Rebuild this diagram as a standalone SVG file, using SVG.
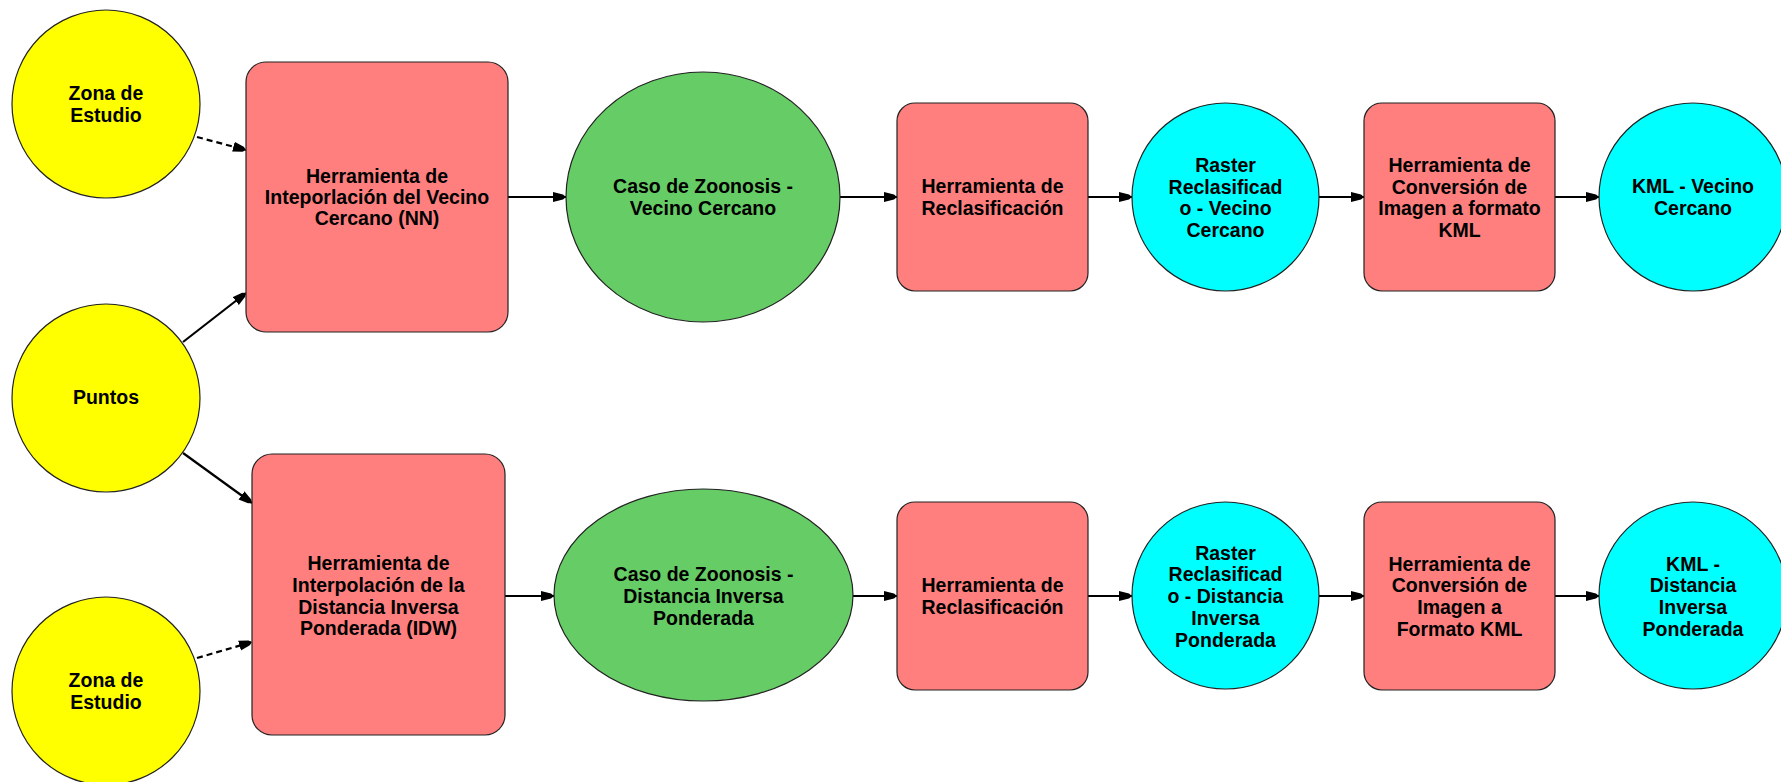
<svg xmlns="http://www.w3.org/2000/svg" width="1781" height="782" viewBox="0 0 1781 782">
<style>
  .lbl { font-family: "Liberation Sans", Arial, sans-serif; font-weight: bold; font-size: 19.5px; fill: #000; text-anchor: middle; }
  .in { fill: #FFFF00; stroke: #222; stroke-width: 1.2; }
  .tool { fill: #FF7F7F; stroke: #222; stroke-width: 1.2; }
  .mid { fill: #66CC66; stroke: #222; stroke-width: 1.2; }
  .out { fill: #00FFFF; stroke: #222; stroke-width: 1.2; }
  .edge { stroke: #000; stroke-width: 2.2; fill: none; marker-end: url(#ah); }
  .dash { stroke-dasharray: 6 4; }
</style>
<defs>
  <marker id="ah" viewBox="0 0 13 11" refX="13" refY="5.5" markerWidth="13" markerHeight="11" markerUnits="userSpaceOnUse" orient="auto">
    <path d="M0,0.5 L10,3 L13,5.5 L10,8 L0,10.5 Z" fill="#000"/>
  </marker>
</defs>
<rect width="1781" height="782" fill="#fff"/>
<g id="connectors">
  <line class="edge dash" x1="197" y1="137" x2="246" y2="150"/>
  <line class="edge" x1="183" y1="342" x2="246" y2="293"/>
  <line class="edge" x1="183" y1="453" x2="252" y2="503"/>
  <line class="edge dash" x1="197" y1="658" x2="252" y2="642"/>
  <line class="edge" x1="508" y1="197" x2="566" y2="197"/>
  <line class="edge" x1="840" y1="197" x2="897" y2="197"/>
  <line class="edge" x1="1088" y1="197" x2="1132" y2="197"/>
  <line class="edge" x1="1319" y1="197" x2="1364" y2="197"/>
  <line class="edge" x1="1555" y1="197" x2="1599" y2="197"/>
  <line class="edge" x1="505" y1="596" x2="554" y2="596"/>
  <line class="edge" x1="853" y1="596" x2="897" y2="596"/>
  <line class="edge" x1="1088" y1="596" x2="1132" y2="596"/>
  <line class="edge" x1="1319" y1="596" x2="1364" y2="596"/>
  <line class="edge" x1="1555" y1="596" x2="1599" y2="596"/>
</g>
<g id="zona1">
  <circle class="in" cx="106" cy="104" r="94"/>
  <text class="lbl" x="106" y="100">Zona de</text>
  <text class="lbl" x="106" y="122">Estudio</text>
</g>
<g id="puntos">
  <circle class="in" cx="106" cy="398" r="94"/>
  <text class="lbl" x="106" y="404">Puntos</text>
</g>
<g id="zona2">
  <circle class="in" cx="106" cy="691" r="94"/>
  <text class="lbl" x="106" y="687">Zona de</text>
  <text class="lbl" x="106" y="709">Estudio</text>
</g>
<g id="nn">
  <rect class="tool" x="246" y="62" width="262" height="270" rx="20"/>
  <text class="lbl" x="377" y="183">Herramienta de</text>
  <text class="lbl" x="377" y="204">Inteporlación del Vecino</text>
  <text class="lbl" x="377" y="225">Cercano (NN)</text>
</g>
<g id="idw">
  <rect class="tool" x="252" y="454" width="253" height="281" rx="20"/>
  <text class="lbl" x="378.5" y="570">Herramienta de</text>
  <text class="lbl" x="378.5" y="592">Interpolación de la</text>
  <text class="lbl" x="378.5" y="614">Distancia Inversa</text>
  <text class="lbl" x="378.5" y="635">Ponderada (IDW)</text>
</g>
<g id="caso_nn">
  <ellipse class="mid" cx="703" cy="197" rx="137" ry="125"/>
  <text class="lbl" x="703" y="193">Caso de Zoonosis -</text>
  <text class="lbl" x="703" y="215">Vecino Cercano</text>
</g>
<g id="caso_idw">
  <ellipse class="mid" cx="703.5" cy="595" rx="149.5" ry="106"/>
  <text class="lbl" x="703.5" y="581">Caso de Zoonosis -</text>
  <text class="lbl" x="703.5" y="603">Distancia Inversa</text>
  <text class="lbl" x="703.5" y="625">Ponderada</text>
</g>
<g id="reclas1">
  <rect class="tool" x="897" y="103" width="191" height="188" rx="18"/>
  <text class="lbl" x="992.5" y="193">Herramienta de</text>
  <text class="lbl" x="992.5" y="215">Reclasificación</text>
</g>
<g id="reclas2">
  <rect class="tool" x="897" y="502" width="191" height="188" rx="18"/>
  <text class="lbl" x="992.5" y="592">Herramienta de</text>
  <text class="lbl" x="992.5" y="614">Reclasificación</text>
</g>
<g id="raster1">
  <ellipse class="out" cx="1225.5" cy="197" rx="93.5" ry="94"/>
  <text class="lbl" x="1225.5" y="172">Raster</text>
  <text class="lbl" x="1225.5" y="194">Reclasificad</text>
  <text class="lbl" x="1225.5" y="215">o - Vecino</text>
  <text class="lbl" x="1225.5" y="237">Cercano</text>
</g>
<g id="raster2">
  <ellipse class="out" cx="1225.5" cy="595.5" rx="93.5" ry="93.5"/>
  <text class="lbl" x="1225.5" y="560">Raster</text>
  <text class="lbl" x="1225.5" y="581">Reclasificad</text>
  <text class="lbl" x="1225.5" y="603">o - Distancia</text>
  <text class="lbl" x="1225.5" y="625">Inversa</text>
  <text class="lbl" x="1225.5" y="647">Ponderada</text>
</g>
<g id="kmltool1">
  <rect class="tool" x="1364" y="103" width="191" height="188" rx="18"/>
  <text class="lbl" x="1459.5" y="172">Herramienta de</text>
  <text class="lbl" x="1459.5" y="194">Conversión de</text>
  <text class="lbl" x="1459.5" y="215">Imagen a formato</text>
  <text class="lbl" x="1459.5" y="237">KML</text>
</g>
<g id="kmltool2">
  <rect class="tool" x="1364" y="502" width="191" height="188" rx="18"/>
  <text class="lbl" x="1459.5" y="571">Herramienta de</text>
  <text class="lbl" x="1459.5" y="592">Conversión de</text>
  <text class="lbl" x="1459.5" y="614">Imagen a</text>
  <text class="lbl" x="1459.5" y="636">Formato KML</text>
</g>
<g id="kml1">
  <ellipse class="out" cx="1693" cy="197" rx="94" ry="94"/>
  <text class="lbl" x="1693" y="193">KML - Vecino</text>
  <text class="lbl" x="1693" y="215">Cercano</text>
</g>
<g id="kml2">
  <ellipse class="out" cx="1693" cy="595.5" rx="94" ry="93.5"/>
  <text class="lbl" x="1693" y="571">KML -</text>
  <text class="lbl" x="1693" y="592">Distancia</text>
  <text class="lbl" x="1693" y="614">Inversa</text>
  <text class="lbl" x="1693" y="636">Ponderada</text>
</g>
</svg>
